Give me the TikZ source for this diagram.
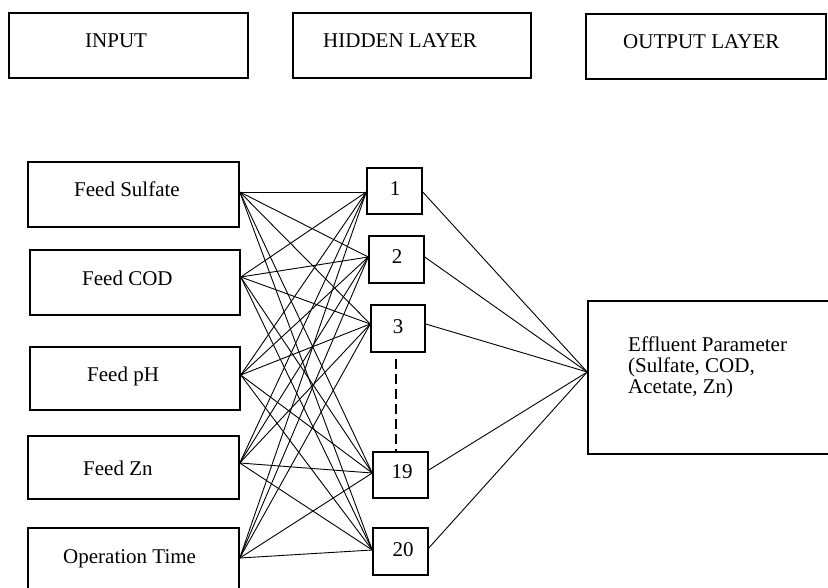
\documentclass[tikz,border=0pt]{standalone}
\usepackage{fontspec}
\setmainfont{Liberation Serif}
\begin{document}
\begin{tikzpicture}[x=1pt,y=-1pt,
  box/.style={draw, rectangle, line width=1.5pt, inner sep=0pt},
  txt/.style={inner sep=0pt, font=\fontsize{21}{21}\selectfont},
  link/.style={line width=0.9pt, line cap=round}]
\useasboundingbox (0,0) rectangle (828,587);
\clip (0,0) rectangle (828,587);

% layer headings
\node[box, minimum width=239pt, minimum height=65pt] (tin)  at (128.5,45.5) {};
\node[box, minimum width=238pt, minimum height=65pt] (thid) at (412,45.5) {};
\node[box, minimum width=240pt, minimum height=65pt] (tout) at (706,46.5) {};
\node[txt, anchor=base west] (tinl)  at (85,47)  {INPUT};
\node[txt, anchor=base west] (thidl) at (323,47) {HIDDEN LAYER};
\node[txt, anchor=base west] (toutl) at (623,48) {OUTPUT LAYER};

% input boxes
\node[box, minimum width=211pt, minimum height=65pt] (s) at (133.5,194.5) {};
\node[box, minimum width=210pt, minimum height=65pt] (c) at (135,282.5) {};
\node[box, minimum width=210pt, minimum height=63pt] (p) at (135,378.5) {};
\node[box, minimum width=211pt, minimum height=63pt] (z) at (133.5,467.5) {};
\node[box, minimum width=211pt, minimum height=64pt] (t) at (133.5,560) {};
\node[txt, anchor=base west] (sl) at (74,196)  {Feed Sulfate};
\node[txt, anchor=base west] (cl) at (82,285)  {Feed COD};
\node[txt, anchor=base west] (pl) at (87,381)  {Feed pH};
\node[txt, anchor=base west] (zl) at (83,475)  {Feed Zn};
\node[txt, anchor=base west] (tl) at (63,563)  {Operation Time};

% hidden neurons
\node[box, minimum width=55pt, minimum height=46pt] (h1)  at (394.5,191) {};
\node[box, minimum width=55pt, minimum height=47pt] (h2)  at (396.5,259.5) {};
\node[box, minimum width=54pt, minimum height=47pt] (h3)  at (398,328.5) {};
\node[box, minimum width=55pt, minimum height=46pt] (h19) at (400.5,475) {};
\node[box, minimum width=55pt, minimum height=47pt] (h20) at (400.5,551.5) {};
\node[txt, anchor=base] (h1l)  at (395,195) {1};
\node[txt, anchor=base] (h2l)  at (397,263) {2};
\node[txt, anchor=base] (h3l)  at (398,333) {3};
\node[txt, anchor=base] (h19l) at (402,478) {19};
\node[txt, anchor=base] (h20l) at (403,556) {20};

% output box
\node[box, minimum width=252pt, minimum height=153pt] (o) at (714,377.5) {};
\node[txt, anchor=base west, align=left] (ol) at (628,393)
  {Effluent Parameter\\[-0.3pt](Sulfate, COD,\\[-0.3pt]Acetate, Zn)};

% connection ports
\coordinate (s-r) at ([yshift=2.5pt]s.east);
\coordinate (c-r) at ([yshift=5.5pt]c.east);
\coordinate (p-r) at ([yshift=3.5pt]p.east);
\coordinate (z-r) at ([yshift=4.5pt]z.east);
\coordinate (t-r) at ([yshift=2pt]t.east);
\coordinate (h1-l)  at ([yshift=-1pt]h1.west);
\coordinate (h2-l)  at ([yshift=2.5pt]h2.west);
\coordinate (h3-l)  at ([yshift=4.5pt]h3.west);
\coordinate (h19-l) at ([yshift=2pt]h19.west);
\coordinate (h20-l) at ([yshift=1.5pt]h20.west);
\coordinate (h1-r)  at ([yshift=-1pt]h1.east);
\coordinate (h2-r)  at ([yshift=2.5pt]h2.east);
\coordinate (h3-r)  at ([yshift=4.5pt]h3.east);
\coordinate (h19-r) at ([yshift=5pt]h19.east);
\coordinate (h20-r) at ([yshift=3.5pt]h20.east);
\coordinate (o-l) at ([yshift=5.5pt]o.west);

% input -> hidden, fully connected
\foreach \i in {s,c,p,z,t}
  \foreach \j in {h1,h2,h3,h19,h20}
    \draw[link] (\i-r) -- (\j-l);

% hidden -> output
\foreach \j in {h1,h2,h3,h19,h20}
  \draw[link] (\j-r) -- (o-l);

% omitted neurons 4 to 18
\draw[line width=1.2pt, dash pattern=on 10pt off 5pt]
  ([xshift=-2pt,yshift=-6pt]h3.south) -- ([xshift=-4.5pt]h19.north);
\end{tikzpicture}
\end{document}
